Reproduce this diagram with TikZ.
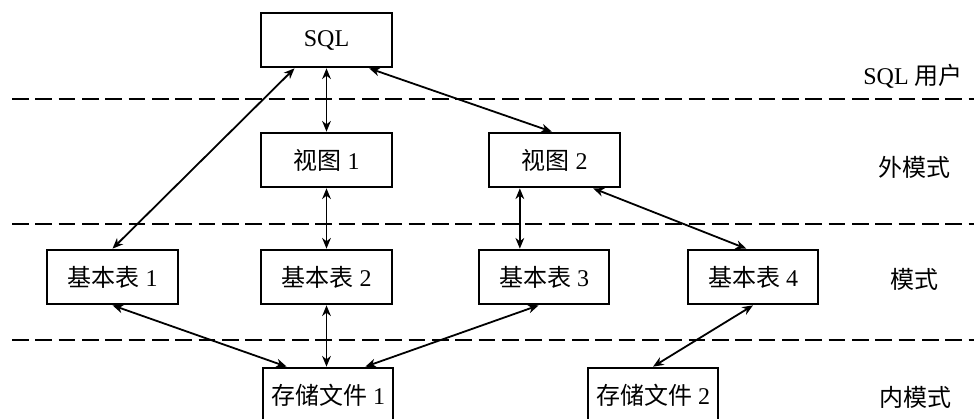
\documentclass[tikz,border=0pt]{standalone}
\usepackage{fontspec}
\setmainfont{Liberation Serif}
\newfontfamily\cjk{Noto Sans CJK SC}
\newcommand{\zh}[1]{{\cjk #1}}
\usetikzlibrary{arrows.meta,positioning}
\tikzset{
  tablebox/.style={draw=black,line width=1.5pt,minimum width=98pt,minimum height=41pt,inner sep=0pt},
  link/.style={{Stealth[length=8pt,width=6.5pt,inset=2.5pt]}-{Stealth[length=8pt,width=6.5pt,inset=2.5pt]},line width=1.35pt},
  layerline/.style={line width=1.4pt,dash pattern=on 12.5pt off 5pt},
  layertext/.style={inner sep=0pt}
}
\begin{document}
\begin{tikzpicture}[x=0.75pt,y=-0.75pt,font=\fontsize{18}{22}\selectfont]
  \clip (0,0) rectangle (974,418);
  % layer separators
  \foreach \y in {99,224,340}
    \draw[layerline] (12,\y) -- (974,\y);
  \node[tablebox] (sql) at (326.5,40) {SQL};
  \node[tablebox] (view1) at (326.5,160) {\zh{视图} 1};
  \node[tablebox] (view2) at (554.5,160) {\zh{视图} 2};
  \node[tablebox] (tab1) at (112.5,277) {\zh{基本表} 1};
  \node[tablebox] (tab2) at (326.5,277) {\zh{基本表} 2};
  \node[tablebox] (tab3) at (544,277) {\zh{基本表} 3};
  \node[tablebox] (tab4) at (753,277) {\zh{基本表} 4};
  \node[tablebox] (file1) at (328,395) {\zh{存储文件} 1};
  \node[tablebox] (file2) at (653,395) {\zh{存储文件} 2};
  % layer names
  \node[layertext] (lsql) at (913,76) {SQL \zh{用户}};
  \node[layertext] (lext) at (914,167) {\zh{外模式}};
  \node[layertext] (lcon) at (914,279) {\zh{模式}};
  \node[layertext] (lint) at (915,397) {\zh{内模式}};
  \draw[link] ([xshift=-24pt]sql.south) -- (tab1.north);
  \draw[link] (sql.south) -- (view1.north);
  \draw[link] ([xshift=32pt]sql.south) -- ([xshift=-2pt]view2.north);
  \draw[link] (view1.south) -- (tab2.north);
  \draw[link] ([xshift=-26pt]view2.south) -- ([xshift=-26pt]view2.south |- tab3.north);
  \draw[link] ([xshift=29pt]view2.south) -- ([xshift=-5pt]tab4.north);
  \draw[link] (tab1.south) -- ([xshift=-31pt]file1.north);
  \draw[link] (tab2.south) -- (tab2.south |- file1.north);
  \draw[link] ([xshift=-4pt]tab3.south) -- ([xshift=28pt]file1.north);
  \draw[link] (tab4.south) -- (file2.north);
\end{tikzpicture}
\end{document}
